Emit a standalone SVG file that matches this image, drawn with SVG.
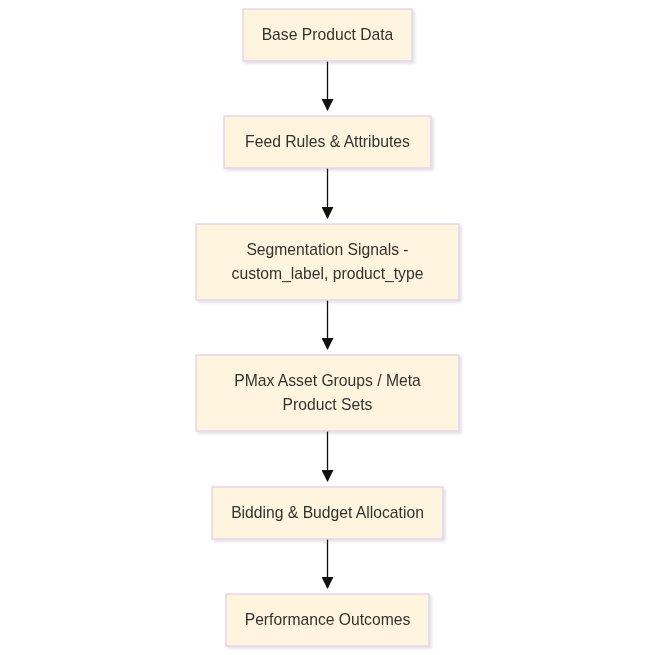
<svg xmlns="http://www.w3.org/2000/svg" width="655" height="655" viewBox="0 0 655 655">
<style>
.n{fill:#fff4dd;stroke:#e6cdee;stroke-width:1.3}
.t{font-family:"Liberation Sans",Arial,sans-serif;font-size:15.7px;fill:#333;text-anchor:middle}
.e{stroke:#111;stroke-width:1.3;fill:none;marker-end:url(#a)}
</style>
<defs>
<marker id="a" markerWidth="12" markerHeight="12" refX="11" refY="6" orient="auto" markerUnits="userSpaceOnUse"><path d="M0,0L12,6L0,12z" fill="#111"/></marker>
<filter id="s" x="-10%" y="-20%" width="120%" height="150%"><feDropShadow dx="2" dy="2" stdDeviation="1.5" flood-color="#000" flood-opacity="0.12"/></filter>
</defs>
<rect width="655" height="655" fill="#fff"/>
<g id="edges">
<path class="e" d="M327.5,61V110"/>
<path class="e" d="M327.5,168V218"/>
<path class="e" d="M327.5,300V349"/>
<path class="e" d="M327.5,431V481"/>
<path class="e" d="M327.5,539V588"/>
</g>
<g id="n1" filter="url(#s)"><rect class="n" x="243" y="9" width="169" height="52"/><text class="t" x="327.5" y="40">Base Product Data</text></g>
<g id="n2" filter="url(#s)"><rect class="n" x="224" y="116" width="207" height="52"/><text class="t" x="327.5" y="147">Feed Rules &amp; Attributes</text></g>
<g id="n3" filter="url(#s)"><rect class="n" x="196" y="224" width="263" height="76"/><text class="t" x="327.5" y="255">Segmentation Signals -</text><text class="t" x="327.5" y="279">custom_label, product_type</text></g>
<g id="n4" filter="url(#s)"><rect class="n" x="196" y="355" width="263" height="76"/><text class="t" x="327.5" y="386">PMax Asset Groups / Meta</text><text class="t" x="327.5" y="410">Product Sets</text></g>
<g id="n5" filter="url(#s)"><rect class="n" x="212" y="487" width="231" height="52"/><text class="t" x="327.5" y="518">Bidding &amp; Budget Allocation</text></g>
<g id="n6" filter="url(#s)"><rect class="n" x="226" y="594" width="203" height="52"/><text class="t" x="327.5" y="625">Performance Outcomes</text></g>
</svg>
